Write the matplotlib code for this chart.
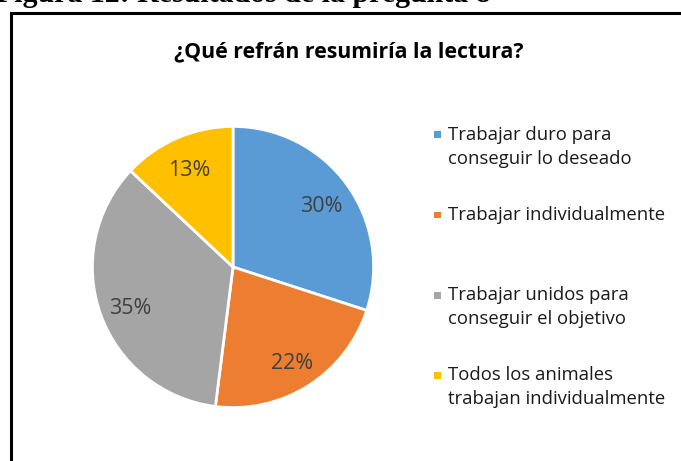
import matplotlib.pyplot as plt
from matplotlib.patches import Rectangle

# datos del grafico
labels = ['Trabajar duro para\nconseguir lo deseado',
          'Trabajar individualmente',
          'Trabajar unidos para\nconseguir el objetivo',
          'Todos los animales\ntrabajan individualmente']
values = [30, 22, 35, 13]
colors = ['#5B9BD5', '#ED7D31', '#A5A5A5', '#FFC000']
title = '¿Qué refrán resumiría la lectura?'
caption = 'Figura 12: Resultados de la pregunta 8'

W, H = 681, 461
fig = plt.figure(figsize=(W / 100, H / 100), dpi=100)

# leyenda del documento (cortada arriba)
fig.text(-4 / W, 1 - 2 / H, caption, fontsize=21.5, fontweight='bold',
         family='Liberation Serif', ha='left', va='baseline')

# marco del grafico
fig.patches.append(Rectangle((11 / W, -0.1), 1.2, 1 - 13 / H + 0.1,
                             transform=fig.transFigure, fill=False,
                             edgecolor='black', linewidth=2.2))

fig.text(349 / W, 1 - 52 / H, title, fontsize=15.3, fontweight='bold',
         family='Open Sans', color='black', ha='center', va='center')

# pastel
cx, cy, r = 233, 267, 142
ax = fig.add_axes([(cx - r) / W, (H - cy - r) / H, 2 * r / W, 2 * r / H])
wedges, texts, autotexts = ax.pie(values, colors=colors, startangle=90, counterclock=False,
                                  autopct='%.0f%%', pctdistance=0.78,
                                  wedgeprops=dict(edgecolor='white', linewidth=2))
for t in autotexts:
    t.set_color('#404040')
    t.set_fontsize(15.5)
    t.set_family('Open Sans')
    x, y = t.get_position()
    t.set_position((x, y - 0.028))
ax.set_xlim(-1.01, 1.01)
ax.set_ylim(-1.01, 1.01)
ax.axis('off')

# leyenda
legend_y = [147, 215, 307, 387]
for lab, col, y in zip(labels, colors, legend_y):
    nl = lab.count('\n')
    ym = y - 12 * nl
    fig.patches.append(Rectangle((434 / W, 1 - (ym + 3.5) / H), 7 / W, 7 / H,
                                 transform=fig.transFigure, facecolor=col, edgecolor='none'))
    fig.text(448 / W, 1 - y / H, lab, fontsize=13.3, family='Open Sans',
             color='#1a1a1a', ha='left', va='center', linespacing=1.41)

fig.savefig('out.png', dpi=100)
